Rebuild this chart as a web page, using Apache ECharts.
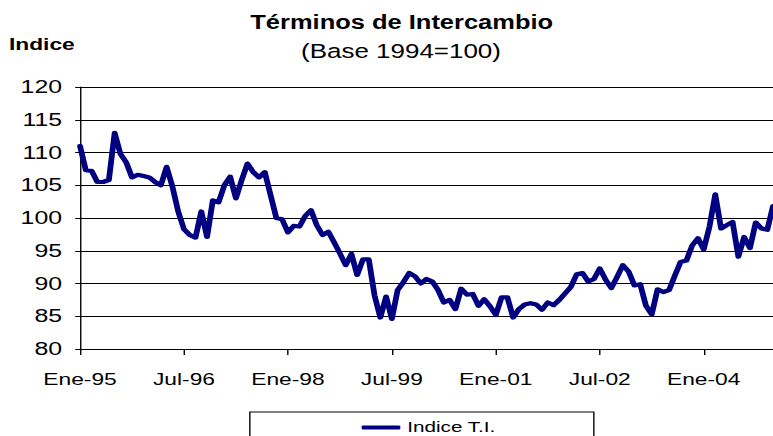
<!DOCTYPE html>
<html>
<head>
<meta charset="utf-8">
<script src="https://cdn.jsdelivr.net/npm/echarts@6/dist/echarts.min.js"></script>
<style>
  html, body { margin: 0; padding: 0; background: #fff; overflow: hidden; }
  #chart { width: 560px; height: 436px; transform: scaleX(1.3804); transform-origin: 0 0; }
</style>
</head>
<body>
<div id="chart"></div>
<script>
// the reference is stretched sideways, so the chart is drawn narrow and widened with css
const SX = 773 / 560;
const FONT = 'Liberation Sans, Arial, sans-serif';

const monthNames = ['Ene', 'Feb', 'Mar', 'Abr', 'May', 'Jun', 'Jul', 'Ago', 'Sep', 'Oct', 'Nov', 'Dic'];
const years = ['95', '96', '97', '98', '99', '00', '01', '02', '03', '04', '05'];

// Indice T.I., monthly from Ene-95
const indiceTI = [
  111.0, 107.3, 107.2, 105.5, 105.5, 105.8, 113.0, 109.8, 108.5, 106.2, 106.6, 106.4,
  106.2, 105.5, 105.0, 107.8, 104.8, 101.0, 98.3, 97.4, 97.0, 101.0, 97.1, 102.7,
  102.4, 105.0, 106.3, 103.0, 105.8, 108.3, 107.0, 106.2, 107.0, 103.5, 100.0, 99.8,
  97.8, 98.8, 98.7, 100.3, 101.2, 98.9, 97.4, 97.9, 96.3, 94.6, 92.8, 94.5,
  91.3, 93.7, 93.7, 88.2, 84.8, 88.0, 84.6, 89.0, 90.2, 91.6, 91.1, 90.0,
  90.7, 90.3, 89.0, 87.1, 87.5, 86.1, 89.2, 88.3, 88.4, 86.6, 87.6, 86.5,
  85.2, 87.9, 87.9, 84.8, 86.1, 86.8, 87.0, 86.8, 86.0, 87.1, 86.7, 87.5,
  88.5, 89.5, 91.4, 91.6, 90.3, 90.7, 92.3, 90.6, 89.3, 91.0, 92.8, 91.8,
  89.7, 89.9, 86.6, 85.3, 89.1, 88.7, 89.0, 91.2, 93.3, 93.5, 95.8, 96.9,
  95.2, 98.7, 103.6, 98.4, 98.9, 99.4, 94.1, 97.1, 95.4, 99.3, 98.4, 98.2,
  101.8
];

const categories = [];
for (let i = 0; i < indiceTI.length; i++) {
  categories.push(monthNames[i % 12] + '-' + years[Math.floor(i / 12)]);
}

const chart = echarts.init(document.getElementById('chart'), null, { renderer: 'svg' });

chart.setOption({
  animation: false,
  backgroundColor: '#fff',
  textStyle: { fontFamily: FONT },
  graphic: [
    {
      type: 'text', x: 291, y: 11, scaleX: 0.9,
      style: { text: 'Términos de Intercambio', fontSize: 20.5, fontWeight: 'bold', fontFamily: FONT, fill: '#000', align: 'center', verticalAlign: 'top' }
    },
    {
      type: 'text', x: 290.5, y: 41, scaleX: 0.965,
      style: { text: '(Base 1994=100)', fontSize: 19.5, fontFamily: FONT, fill: '#000', align: 'center', verticalAlign: 'top' }
    },
    {
      type: 'text', x: 6.5, y: 36,
      style: { text: 'Indice', fontSize: 16.5, fontWeight: 'bold', fontFamily: FONT, fill: '#000', align: 'left', verticalAlign: 'top' }
    }
  ],
  legend: {
    left: 181,
    top: 412,
    padding: [8, 71, 20, 81],
    borderColor: '#000',
    borderWidth: 1,
    itemWidth: 28,
    itemHeight: 4,
    icon: 'roundRect',
    textStyle: { fontSize: 15, fontFamily: FONT, color: '#000' },
    data: ['Indice T.I.']
  },
  grid: {
    left: 80 / SX,
    top: 87,
    width: 696 / SX,
    height: 262,
    containLabel: false
  },
  xAxis: {
    type: 'category',
    data: categories,
    boundaryGap: false,
    axisLine: { lineStyle: { color: '#000', width: 1 } },
    axisTick: { show: true, interval: 17, length: 6, lineStyle: { color: '#000' } },
    axisLabel: { interval: 17, margin: 22, fontSize: 16.5, fontFamily: FONT, color: '#000' },
    splitLine: { show: false }
  },
  yAxis: {
    type: 'value',
    min: 80,
    max: 120,
    interval: 5,
    axisLine: { show: true, lineStyle: { color: '#000', width: 1 } },
    axisTick: { show: true, length: 3.5, lineStyle: { color: '#000' } },
    axisLabel: { margin: 13, fontSize: 18, fontFamily: FONT, color: '#000' },
    splitLine: { show: true, lineStyle: { color: '#000', width: 1 } }
  },
  series: [
    {
      name: 'Indice T.I.',
      type: 'line',
      data: indiceTI,
      symbol: 'none',
      itemStyle: { color: '#000080' },
      lineStyle: { color: '#000080', width: 4.2, join: 'round', cap: 'round' }
    }
  ]
});
</script>
</body>
</html>
